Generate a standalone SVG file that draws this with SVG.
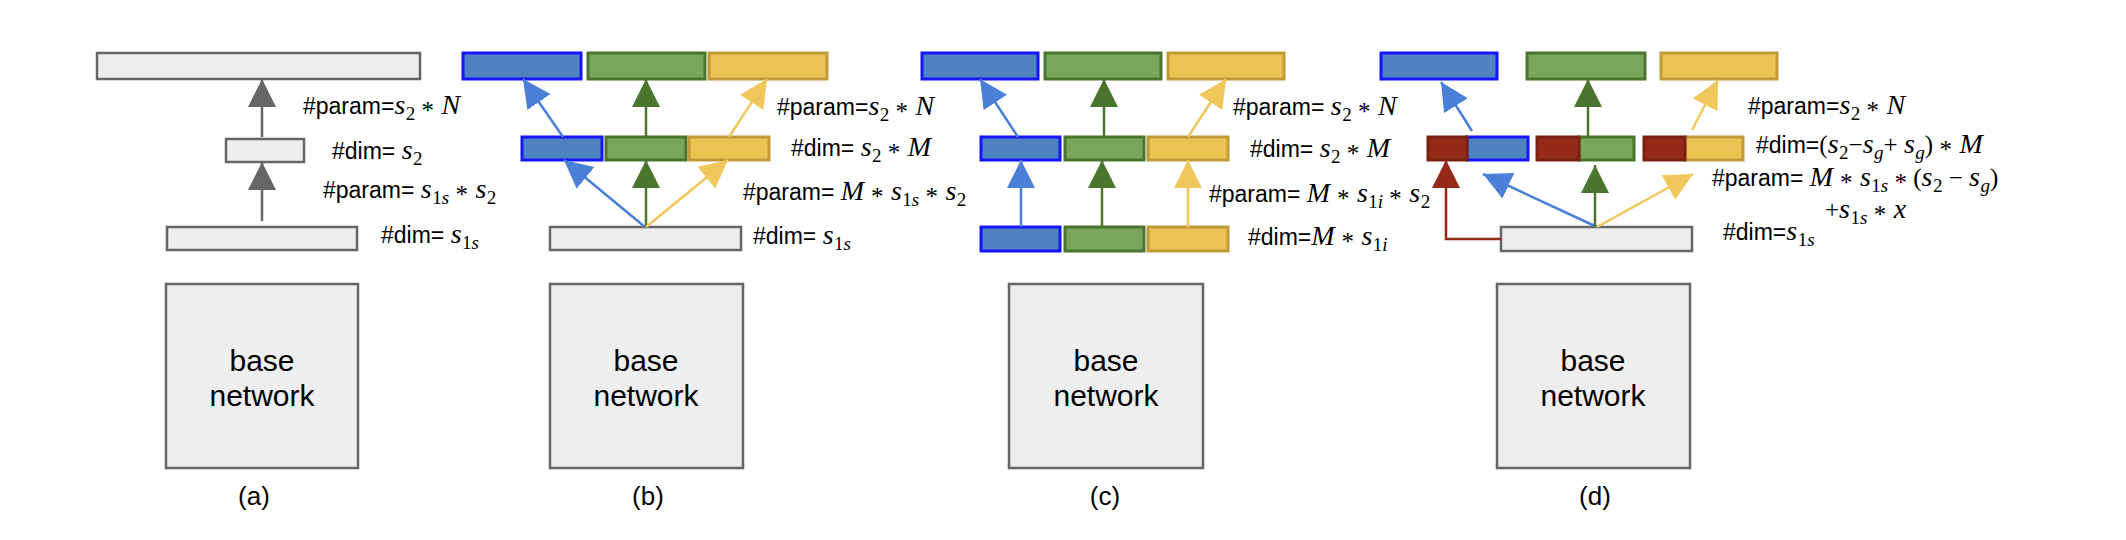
<svg xmlns="http://www.w3.org/2000/svg" width="2126" height="540" viewBox="0 0 2126 540">
<style>
.gray{fill:#eeeeee;stroke:#666666;stroke-width:2.5}
.blue{fill:#4f83bf;stroke:#1515ff;stroke-width:3}
.green{fill:#78a65b;stroke:#4a752e;stroke-width:3}
.yellow{fill:#eac352;stroke:#c09a38;stroke-width:3}
.red{fill:#952a18;stroke:#7c2012;stroke-width:3}
.t{font-family:"Liberation Sans",Arial,sans-serif;font-size:23px;fill:#000}
.v{font-family:"Liberation Serif","Times New Roman",serif;font-style:italic;font-size:28px;letter-spacing:0.5px}
.o{font-family:"Liberation Serif","Times New Roman",serif;font-style:normal;font-size:25px}
.n{font-family:"Liberation Serif","Times New Roman",serif;font-style:normal;font-size:19px}
.vs{font-family:"Liberation Serif","Times New Roman",serif;font-style:italic;font-size:19px}
.bn{font-family:"Liberation Sans",Arial,sans-serif;font-size:30px;fill:#000;text-anchor:middle}
.lab{font-family:"Liberation Sans",Arial,sans-serif;font-size:26px;fill:#000;text-anchor:middle}
.c{fill:none;stroke-width:2.5}
.cg{stroke:#666666}.cb{stroke:#4a80d8}.cgr{stroke:#4a752e}.cy{stroke:#f0c75a}.cr{stroke:#952a18}
</style>
<defs>
<marker id="mg" markerUnits="userSpaceOnUse" markerWidth="28" markerHeight="28" viewBox="0 0 28 28" refX="28" refY="14" orient="auto"><path d="M0,0 L28,14 L0,28 z" fill="#666666"/></marker>
<marker id="mb" markerUnits="userSpaceOnUse" markerWidth="28" markerHeight="28" viewBox="0 0 28 28" refX="28" refY="14" orient="auto"><path d="M0,0 L28,14 L0,28 z" fill="#4a80d8"/></marker>
<marker id="mgr" markerUnits="userSpaceOnUse" markerWidth="28" markerHeight="28" viewBox="0 0 28 28" refX="28" refY="14" orient="auto"><path d="M0,0 L28,14 L0,28 z" fill="#4a752e"/></marker>
<marker id="my" markerUnits="userSpaceOnUse" markerWidth="28" markerHeight="28" viewBox="0 0 28 28" refX="28" refY="14" orient="auto"><path d="M0,0 L28,14 L0,28 z" fill="#f0c75a"/></marker>
<marker id="mr" markerUnits="userSpaceOnUse" markerWidth="28" markerHeight="28" viewBox="0 0 28 28" refX="28" refY="14" orient="auto"><path d="M0,0 L28,14 L0,28 z" fill="#952a18"/></marker>
</defs>
<rect width="2126" height="540" fill="#ffffff"/>

<!-- Panel (a) -->
<g id="a-top"><rect class="gray" x="97" y="53" width="323" height="26"/></g>
<g id="a-mid"><rect class="gray" x="226" y="139" width="78" height="23"/></g>
<g id="a-bottom"><rect class="gray" x="167" y="227" width="190" height="23"/></g>
<g id="a-base"><rect class="gray" x="166" y="284" width="192" height="184"/><text class="bn" x="262" y="371">base</text><text class="bn" x="262" y="406">network</text></g>
<g id="a-labels">
<text class="t" x="303" y="114">#param=<tspan class="v">s</tspan><tspan class="n" dy="6">2</tspan><tspan class="o" dy="-1"> *</tspan><tspan class="v" dy="-5"> N</tspan></text>
<text class="t" x="332" y="159">#dim= <tspan class="v">s</tspan><tspan class="n" dy="6">2</tspan></text>
<text class="t" x="323" y="198">#param= <tspan class="v">s</tspan><tspan class="n" dy="6">1</tspan><tspan class="vs">s</tspan><tspan class="o" dy="-1"> *</tspan><tspan class="v" dy="-5"> s</tspan><tspan class="n" dy="6">2</tspan></text>
<text class="t" x="381" y="243">#dim= <tspan class="v">s</tspan><tspan class="n" dy="6">1</tspan><tspan class="vs">s</tspan></text>
<text class="lab" x="254" y="505">(a)</text>
</g>

<!-- Panel (b) -->
<g id="b-top-blue"><rect class="blue" x="463" y="53" width="118" height="26"/></g>
<g id="b-top-green"><rect class="green" x="588" y="53" width="117" height="26"/></g>
<g id="b-top-yellow"><rect class="yellow" x="709" y="53" width="118" height="26"/></g>
<g id="b-mid-blue"><rect class="blue" x="522" y="137" width="80" height="23"/></g>
<g id="b-mid-green"><rect class="green" x="606" y="137" width="80" height="23"/></g>
<g id="b-mid-yellow"><rect class="yellow" x="689" y="137" width="80" height="23"/></g>
<g id="b-bottom"><rect class="gray" x="550" y="227" width="191" height="23"/></g>
<g id="b-base"><rect class="gray" x="550" y="284" width="193" height="184"/><text class="bn" x="646" y="371">base</text><text class="bn" x="646" y="406">network</text></g>
<g id="b-labels">
<text class="t" x="777" y="115">#param=<tspan class="v">s</tspan><tspan class="n" dy="6">2</tspan><tspan class="o" dy="-1"> *</tspan><tspan class="v" dy="-5"> N</tspan></text>
<text class="t" x="791" y="156">#dim= <tspan class="v">s</tspan><tspan class="n" dy="6">2</tspan><tspan class="o" dy="-1"> *</tspan><tspan class="v" dy="-5"> M</tspan></text>
<text class="t" x="743" y="200">#param= <tspan class="v">M</tspan><tspan class="o" dy="5"> *</tspan><tspan class="v" dy="-5"> s</tspan><tspan class="n" dy="6">1</tspan><tspan class="vs">s</tspan><tspan class="o" dy="-1"> *</tspan><tspan class="v" dy="-5"> s</tspan><tspan class="n" dy="6">2</tspan></text>
<text class="t" x="753" y="244">#dim= <tspan class="v">s</tspan><tspan class="n" dy="6">1</tspan><tspan class="vs">s</tspan></text>
<text class="lab" x="648" y="505">(b)</text>
</g>

<!-- Panel (c) -->
<g id="c-top-blue"><rect class="blue" x="922" y="53" width="116" height="26"/></g>
<g id="c-top-green"><rect class="green" x="1045" y="53" width="116" height="26"/></g>
<g id="c-top-yellow"><rect class="yellow" x="1168" y="53" width="116" height="26"/></g>
<g id="c-mid-blue"><rect class="blue" x="981" y="137" width="79" height="23"/></g>
<g id="c-mid-green"><rect class="green" x="1065" y="137" width="79" height="23"/></g>
<g id="c-mid-yellow"><rect class="yellow" x="1148" y="137" width="80" height="23"/></g>
<g id="c-bot-blue"><rect class="blue" x="981" y="227" width="79" height="24"/></g>
<g id="c-bot-green"><rect class="green" x="1065" y="227" width="79" height="24"/></g>
<g id="c-bot-yellow"><rect class="yellow" x="1148" y="227" width="80" height="24"/></g>
<g id="c-base"><rect class="gray" x="1009" y="284" width="194" height="184"/><text class="bn" x="1106" y="371">base</text><text class="bn" x="1106" y="406">network</text></g>
<g id="c-labels">
<text class="t" x="1233" y="115">#param= <tspan class="v">s</tspan><tspan class="n" dy="6">2</tspan><tspan class="o" dy="-1"> *</tspan><tspan class="v" dy="-5"> N</tspan></text>
<text class="t" x="1250" y="157">#dim= <tspan class="v">s</tspan><tspan class="n" dy="6">2</tspan><tspan class="o" dy="-1"> *</tspan><tspan class="v" dy="-5"> M</tspan></text>
<text class="t" x="1209" y="202">#param= <tspan class="v">M</tspan><tspan class="o" dy="5"> *</tspan><tspan class="v" dy="-5"> s</tspan><tspan class="n" dy="6">1</tspan><tspan class="vs">i</tspan><tspan class="o" dy="-1"> *</tspan><tspan class="v" dy="-5"> s</tspan><tspan class="n" dy="6">2</tspan></text>
<text class="t" x="1248" y="245">#dim=<tspan class="v">M</tspan><tspan class="o" dy="5"> *</tspan><tspan class="v" dy="-5"> s</tspan><tspan class="n" dy="6">1</tspan><tspan class="vs">i</tspan></text>
<text class="lab" x="1105" y="505">(c)</text>
</g>

<!-- Panel (d) -->
<g id="d-top-blue"><rect class="blue" x="1381" y="53" width="116" height="26"/></g>
<g id="d-top-green"><rect class="green" x="1527" y="53" width="118" height="26"/></g>
<g id="d-top-yellow"><rect class="yellow" x="1661" y="53" width="116" height="26"/></g>
<g id="d-mid-blue"><rect class="blue" x="1467" y="137" width="61" height="23"/><rect class="red" x="1428" y="137" width="39" height="23"/></g>
<g id="d-mid-green"><rect class="green" x="1579" y="137" width="55" height="23"/><rect class="red" x="1537" y="137" width="42" height="23"/></g>
<g id="d-mid-yellow"><rect class="yellow" x="1685" y="137" width="58" height="23"/><rect class="red" x="1644" y="137" width="41" height="23"/></g>
<g id="d-bottom"><rect class="gray" x="1501" y="227" width="191" height="24"/></g>
<g id="d-base"><rect class="gray" x="1497" y="284" width="193" height="184"/><text class="bn" x="1593" y="371">base</text><text class="bn" x="1593" y="406">network</text></g>
<g id="d-labels">
<text class="t" x="1748" y="114">#param=<tspan class="v">s</tspan><tspan class="n" dy="6">2</tspan><tspan class="o" dy="-1"> *</tspan><tspan class="v" dy="-5"> N</tspan></text>
<text class="t" x="1756" y="153">#dim=<tspan class="o">(</tspan><tspan class="v">s</tspan><tspan class="n" dy="6">2</tspan><tspan class="o" dy="-6">−</tspan><tspan class="v">s</tspan><tspan class="vs" dy="6">g</tspan><tspan class="o" dy="-6">+ </tspan><tspan class="v">s</tspan><tspan class="vs" dy="6">g</tspan><tspan class="o" dy="-6">)</tspan><tspan class="o" dy="5"> *</tspan><tspan class="v" dy="-5"> M</tspan></text>
<text class="t" x="1712" y="186">#param= <tspan class="v">M</tspan><tspan class="o" dy="5"> *</tspan><tspan class="v" dy="-5"> s</tspan><tspan class="n" dy="6">1</tspan><tspan class="vs">s</tspan><tspan class="o" dy="-1"> *</tspan><tspan class="o" dy="-5"> (</tspan><tspan class="v">s</tspan><tspan class="n" dy="6">2</tspan><tspan class="o" dy="-6"> − </tspan><tspan class="v">s</tspan><tspan class="vs" dy="6">g</tspan><tspan class="o" dy="-6">)</tspan></text>
<text class="t" x="1825" y="218"><tspan class="o">+</tspan><tspan class="v">s</tspan><tspan class="n" dy="6">1</tspan><tspan class="vs">s</tspan><tspan class="o" dy="-1"> *</tspan><tspan class="v" dy="-5"> x</tspan></text>
<text class="t" x="1723" y="240">#dim=<tspan class="v">s</tspan><tspan class="n" dy="6">1</tspan><tspan class="vs">s</tspan></text>
<text class="lab" x="1595" y="505">(d)</text>
</g>

<g id="connectors">
<path class="c cg" d="M262,137 L262,79" marker-end="url(#mg)"/>
<path class="c cg" d="M262,221 L262,162" marker-end="url(#mg)"/>

<path class="c cb" d="M645,227 L564,160" marker-end="url(#mb)"/>
<path class="c cgr" d="M646,227 L646,160" marker-end="url(#mgr)"/>
<path class="c cy" d="M646,227 L728,160" marker-end="url(#my)"/>
<path class="c cb" d="M563,137 L523,79" marker-end="url(#mb)"/>
<path class="c cgr" d="M646,137 L646,79" marker-end="url(#mgr)"/>
<path class="c cy" d="M729,137 L767,79" marker-end="url(#my)"/>

<path class="c cb" d="M1021,227 L1021,160" marker-end="url(#mb)"/>
<path class="c cgr" d="M1102,227 L1102,160" marker-end="url(#mgr)"/>
<path class="c cy" d="M1188,227 L1188,160" marker-end="url(#my)"/>
<path class="c cb" d="M1018,137 L980,79" marker-end="url(#mb)"/>
<path class="c cgr" d="M1104,137 L1104,79" marker-end="url(#mgr)"/>
<path class="c cy" d="M1188,137 L1226,79" marker-end="url(#my)"/>

<path class="c cr" d="M1501,239 L1446,239 L1446,160" marker-end="url(#mr)"/>
<path class="c cb" d="M1597,227 L1483,174" marker-end="url(#mb)"/>
<path class="c cgr" d="M1595,227 L1595,165" marker-end="url(#mgr)"/>
<path class="c cy" d="M1597,227 L1693,174" marker-end="url(#my)"/>
<path class="c cb" d="M1472,131 L1441,82" marker-end="url(#mb)"/>
<path class="c cgr" d="M1588,137 L1588,79" marker-end="url(#mgr)"/>
<path class="c cy" d="M1692,130 L1718,80" marker-end="url(#my)"/>
</g>
</svg>
